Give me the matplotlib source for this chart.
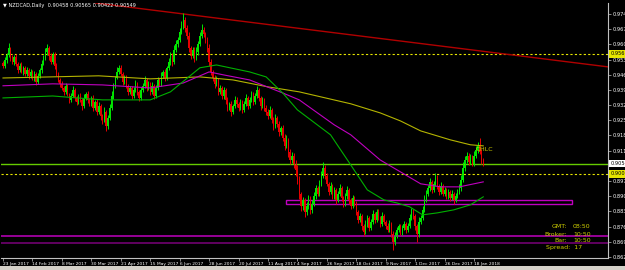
import numpy as np
import matplotlib
matplotlib.use('Agg')
import matplotlib.pyplot as plt
from matplotlib import transforms
from matplotlib.patches import Rectangle

# daily closes, NZDCAD, in pips (1e-4)
closes = [
    9506, 9533, 9556, 9589, 9543, 9524, 9547, 9515, 9487, 9506, 9478, 9497, 9469, 9487, 9460, 9478,
    9450, 9469, 9432, 9460, 9487, 9515, 9543, 9570, 9589, 9552, 9524, 9561, 9506, 9469, 9441, 9423,
    9404, 9386, 9414, 9377, 9349, 9367, 9395, 9358, 9340, 9367, 9349, 9321, 9358, 9377, 9349, 9331,
    9358, 9312, 9340, 9294, 9321, 9275, 9257, 9294, 9229, 9266, 9312, 9367, 9414, 9450, 9478, 9497,
    9469, 9432, 9450, 9414, 9386, 9404, 9367, 9395, 9423, 9386, 9358, 9395, 9414, 9441, 9404, 9423,
    9386, 9414, 9367, 9404, 9441, 9423, 9460, 9478, 9450, 9497, 9524, 9552, 9524, 9579, 9607, 9626,
    9662, 9690, 9718, 9681, 9644, 9589, 9552, 9579, 9543, 9570, 9607, 9644, 9672, 9653, 9626, 9589,
    9524, 9478, 9450, 9423, 9441, 9386, 9404, 9367, 9395, 9349, 9312, 9331, 9294, 9321, 9349, 9331,
    9312, 9340, 9303, 9331, 9358, 9321, 9349, 9377, 9340, 9367, 9395, 9358, 9321, 9349, 9312, 9294,
    9275, 9303, 9257, 9229, 9266, 9238, 9201, 9220, 9174, 9137, 9165, 9109, 9072, 9091, 9054, 9026,
    8980, 8916, 8860, 8888, 8833, 8860, 8897, 8842, 8870, 8906, 8943, 8916, 8962, 8999, 9036, 8999,
    8962, 8925, 8953, 8906, 8934, 8888, 8916, 8943, 8897, 8870, 8906, 8934, 8888, 8860, 8897, 8870,
    8833, 8796, 8814, 8768, 8740, 8777, 8805, 8759, 8787, 8823, 8796, 8833, 8805, 8777, 8814, 8787,
    8768, 8750, 8777, 8731, 8694, 8722, 8750, 8768, 8740, 8759, 8777, 8750, 8768, 8805, 8833, 8814,
    8768, 8731, 8787, 8805, 8842, 8888, 8916, 8943, 8971, 8934, 8962, 8989, 8953, 8925, 8953, 8916,
    8934, 8906, 8925, 8897, 8916, 8888, 8906, 8925, 8943, 8980, 9036, 9072, 9091, 9063, 9082, 9054,
    9091, 9118, 9137, 9109, 9072, 9055,
]
first_open = 9520
up_wick = [
    10, 14, 8, 22, 6, 12, 9, 15, 7, 11, 18, 6, 10, 13, 8, 12,
    9, 15, 7, 12, 10, 18, 14, 20, 16, 8, 12, 10, 7, 14, 9, 11,
    12, 8, 15, 10, 6, 14, 18, 9, 11, 7, 13, 10, 16, 8, 12, 9,
    10, 14, 7, 12, 16, 8, 11, 20, 9, 13, 18, 22, 15, 10, 24, 12,
    14, 9, 12, 16, 8, 11, 7, 13, 18, 10, 9, 14, 12, 20, 8, 11,
    10, 16, 8, 12, 14, 9, 18, 11, 15, 10, 20, 16, 12, 22, 18, 14,
    20, 25, 30, 14, 12, 18, 10, 16, 12, 22, 15, 20, 26, 12, 10, 14,
    16, 12, 10, 14, 18, 9, 15, 11, 13, 8, 12, 10, 14, 9, 18, 11,
    10, 15, 8, 12, 16, 9, 14, 11, 7, 13, 18, 10, 9, 14, 8, 12,
    11, 16, 9, 12, 20, 10, 14, 8, 12, 16, 22, 10, 14, 18, 12, 20,
    24, 16, 10, 14, 8, 18, 12, 9, 16, 20, 14, 10, 18, 22, 26, 12,
    14, 10, 16, 9, 12, 8, 15, 18, 10, 7, 14, 16, 9, 8, 12, 10,
    12, 9, 14, 8, 10, 16, 12, 8, 15, 18, 10, 14, 12, 9, 16, 11,
    10, 12, 16, 8, 12, 18, 14, 10, 9, 12, 15, 10, 14, 20, 18, 12,
    10, 8, 20, 14, 18, 22, 16, 12, 20, 10, 14, 22, 12, 9, 16, 10,
    14, 10, 12, 8, 16, 10, 12, 14, 16, 22, 28, 20, 18, 14, 16, 12,
    22, 20, 18, 37, 14, 10,
]
lo_wick = [
    12, 8, 14, 10, 16, 9, 12, 8, 15, 10, 7, 13, 9, 11, 14, 8,
    10, 12, 16, 8, 9, 12, 7, 10, 14, 18, 9, 11, 16, 12, 10, 14,
    9, 14, 8, 12, 16, 10, 7, 13, 15, 9, 11, 18, 8, 10, 14, 12,
    12, 16, 9, 14, 10, 18, 20, 12, 24, 15, 10, 8, 12, 9, 7, 11,
    10, 14, 9, 12, 16, 11, 13, 8, 10, 15, 12, 9, 11, 8, 14, 10,
    16, 9, 14, 10, 8, 12, 9, 11, 14, 8, 10, 12, 18, 9, 11, 13,
    12, 10, 15, 18, 14, 20, 16, 12, 18, 10, 12, 9, 11, 16, 14, 18,
    20, 16, 14, 18, 12, 16, 10, 14, 12, 18, 16, 10, 20, 12, 9, 14,
    14, 10, 16, 9, 12, 15, 8, 10, 16, 11, 9, 14, 18, 10, 12, 16,
    12, 9, 16, 18, 10, 14, 20, 12, 16, 18, 10, 22, 20, 12, 18, 30,
    20, 24, 22, 18, 26, 14, 12, 20, 16, 10, 14, 12, 10, 8, 12, 16,
    12, 16, 10, 14, 12, 18, 10, 8, 16, 14, 10, 12, 18, 14, 10, 12,
    16, 14, 12, 20, 18, 10, 12, 16, 10, 8, 14, 10, 12, 16, 10, 12,
    14, 12, 10, 16, 37, 12, 10, 9, 14, 12, 10, 14, 12, 9, 10, 12,
    20, 37, 16, 12, 10, 8, 12, 10, 14, 16, 10, 12, 16, 14, 10, 12,
    10, 14, 12, 16, 10, 20, 12, 10, 8, 12, 10, 14, 12, 16, 10, 12,
    10, 12, 14, 10, 18, 12,
]

date_bars = [0, 16, 32, 48, 64, 80, 96, 112, 128, 144, 160, 176, 192, 208, 224, 240, 256]
date_labels = ['23 Jan 2017', '14 Feb 2017', '8 Mar 2017', '30 Mar 2017', '21 Apr 2017',
               '15 May 2017', '6 Jun 2017', '28 Jun 2017', '20 Jul 2017', '11 Aug 2017',
               '4 Sep 2017', '26 Sep 2017', '18 Oct 2017', '9 Nov 2017', '1 Dec 2017',
               '26 Dec 2017', '18 Jan 2018']

# 0.9045 sits under the bid label, so it has no text of its own
price_ticks = [0.9745, 0.9675, 0.9605, 0.9535, 0.9465, 0.9395, 0.9325, 0.9255, 0.9185,
               0.9115, 0.9045, 0.8975, 0.8905, 0.8835, 0.8765, 0.8695, 0.8625]
hidden_ticks = [0.9045]

# moving averages (bar index, pips)
ma200_bars = [0, 52, 80, 107, 125, 144, 161, 189, 205, 216, 227, 243, 254, 261]
ma200 = [9450, 9460, 9446, 9455, 9441, 9409, 9386, 9331, 9289, 9252, 9206, 9165, 9142, 9137]
ma100_bars = [0, 27, 54, 80, 98, 112, 120, 134, 152, 161, 180, 189, 205, 216, 227, 238, 248, 261]
ma100 = [9414, 9423, 9418, 9404, 9427, 9478, 9464, 9441, 9381, 9349, 9234, 9188, 9072, 9017,
         8962, 8948, 8948, 8971]
ma50_bars = [0, 27, 54, 80, 91, 107, 116, 134, 143, 152, 160, 178, 189, 198, 207, 214, 221,
             228, 236, 245, 254, 261]
ma50 = [9358, 9367, 9349, 9349, 9386, 9497, 9510, 9478, 9455, 9381, 9303, 9188, 9049, 8934,
        8888, 8874, 8856, 8819, 8828, 8842, 8865, 8902]

trend_bars = [50, 329]
trend_prices = [0.9796, 0.9501]
bid = 0.90549
dotted_levels = [0.9561, 0.9008]
box_bars = [154, 309]
box_prices = [0.8870, 0.8888]
support_lines = [0.8722, 0.8690]

c = np.array(closes) / 1e4
o = np.r_[first_open, closes[:-1]] / 1e4
hi = np.maximum(o, c) + np.array(up_wick) / 1e4
lo = np.minimum(o, c) - np.array(lo_wick) / 1e4
idx = np.arange(len(c))
cols = np.where(c >= o, '#00e600', '#e60000')

W, H = 625, 270
fig = plt.figure(figsize=(W / 100, H / 100), dpi=100, facecolor='black')
ax = fig.add_axes([1 / W, 12 / H, 607 / W, 255 / H])
ax.set_facecolor('black')
ax.set_xlim(-1.09, 328.8)
ax.set_ylim(0.8620, 0.97957)

# levels and objects
for lv in dotted_levels:
    ax.axhline(lv, color='#e6e600', lw=0.8, ls=(0, (2, 2)))
ax.axhline(bid, color='#66cc00', lw=1.0)
ax.axhline(support_lines[0], color='#b000b0', lw=1.2)
ax.axhline(support_lines[1], color='#700070', lw=1.2)
ax.add_patch(Rectangle((box_bars[0], box_prices[0]), box_bars[1] - box_bars[0],
                       box_prices[1] - box_prices[0], fill=False, ec='#c000c0', lw=1.0))
ax.plot(trend_bars, trend_prices, color='#b00000', lw=1.0)

# candles
ax.vlines(idx, lo, hi, colors=cols, lw=0.7)
ax.bar(idx, np.maximum(np.abs(c - o), 0.00008), bottom=np.minimum(o, c), width=0.75,
       color=cols, linewidth=0)

# moving averages
ax.plot(ma200_bars, np.array(ma200) / 1e4, color='#b4b400', lw=0.8)
ax.plot(ma100_bars, np.array(ma100) / 1e4, color='#c000c0', lw=0.8)
ax.plot(ma50_bars, np.array(ma50) / 1e4, color='#00b000', lw=0.8)

ax.text(len(c) - 5, 0.9122, 'OHLC', color='#d0d000', fontsize=4.5, va='center')

# axes look
for s in ['left', 'top']:
    ax.spines[s].set_visible(False)
for s in ['right', 'bottom']:
    ax.spines[s].set_color('#c0c0c0')
    ax.spines[s].set_linewidth(0.8)
ax.yaxis.tick_right()
ax.set_yticks(price_ticks)
ax.set_yticklabels(['' if v in hidden_ticks else f'{v:.5f}' for v in price_ticks])
ax.tick_params(axis='y', colors='#c0c0c0', labelcolor='white', labelsize=3.6, length=2,
               width=0.5, pad=1)
ax.set_xticks(date_bars)
ax.set_xticklabels(date_labels)
ax.tick_params(axis='x', colors='#c0c0c0', labelcolor='white', labelsize=3.2, length=2,
               width=0.5, pad=1)
for t in ax.get_xticklabels():
    t.set_ha('left')

# colored price labels on the right scale
tr = transforms.blended_transform_factory(ax.transAxes, ax.transData)
for lv, fc in [(dotted_levels[0], '#e6e600'), (bid, 'white'), (dotted_levels[1], '#e6e600')]:
    ax.text(1.004, lv, f'{lv:.5f}', transform=tr, fontsize=3.6, color='black', va='center',
            ha='left', bbox=dict(boxstyle='square,pad=0.25', fc=fc, ec='none'),
            clip_on=False, zorder=10)

# header and info box
fig.text(3 / W, 1 - 5 / H, '\u25bc NZDCAD,Daily  0.90458 0.90565 0.90422 0.90549',
         color='white', fontsize=3.6, va='center')
info = [('GMT:', '08:50', 227), ('Broker:', '10:50', 234), ('Bar:', '10:50', 241)]
for lab, val, y in info:
    fig.text(567 / W, 1 - y / H, lab, color='#d0d000', fontsize=4.5, ha='right', va='center')
    fig.text(573 / W, 1 - y / H, val, color='#d0d000', fontsize=4.5, ha='left', va='center')
fig.text(546 / W, 1 - 248 / H, 'Spread:  17', color='#d0d000', fontsize=4.5, va='center')

# window frame strip at the bottom
fig.patches.append(Rectangle((0, 0), 1, 4 / H, transform=fig.transFigure,
                             fc='#d4d0c8', ec='none'))

fig.savefig('out.png', dpi=100, facecolor='black')
